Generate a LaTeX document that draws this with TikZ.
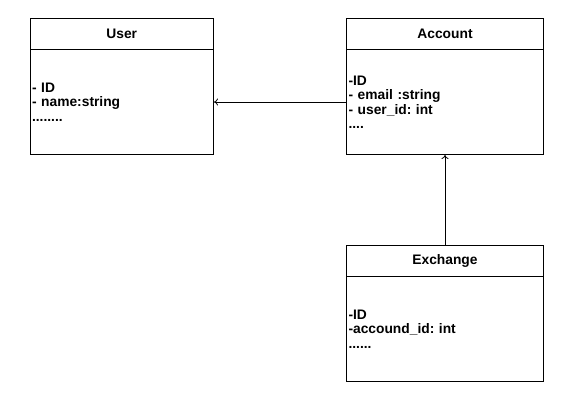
\documentclass[tikz,border=0pt]{standalone}
\usepackage{fontspec}
\setmainfont{Liberation Sans}
\usetikzlibrary{arrows.meta}
\newcommand{\us}{\char"005F}
\begin{document}
\frenchspacing
\begin{tikzpicture}[x=1pt,y=-1pt,
  every node/.style={font=\bfseries\fontsize{13.8}{14.5}\selectfont\frenchspacing, line width=1pt},
  head/.style={draw, anchor=north west, minimum height=31pt, inner sep=0pt},
  body/.style={draw, anchor=north west, minimum height=105pt, inner xsep=2pt, inner ysep=0pt, align=left},
  conn/.style={line width=0.8pt, -{To[length=4pt,width=7pt]}}]
\useasboundingbox (0,0) rectangle (585,405);
\node[head, minimum width=183.5pt] (uh) at (29.5,18) {User};
\node[body, text width=179.5pt] (ub) at (29.5,49) {- ID\\- name:string\\........};
\node[head, minimum width=197pt] (ah) at (346,18) {Account};
\node[body, text width=193pt] (ab) at (346,49) {-ID\\- email :string\\- user\us id: int\\....};
\node[head, minimum width=197pt] (eh) at (346,245) {Exchange};
\node[body, text width=193pt] (eb) at (346,276) {-ID\\-accound\us id: int\\......};
\draw[conn] (ab.west) -- (ub.east);
\draw[conn] (eh.north) -- (ab.south);
\end{tikzpicture}
\end{document}
